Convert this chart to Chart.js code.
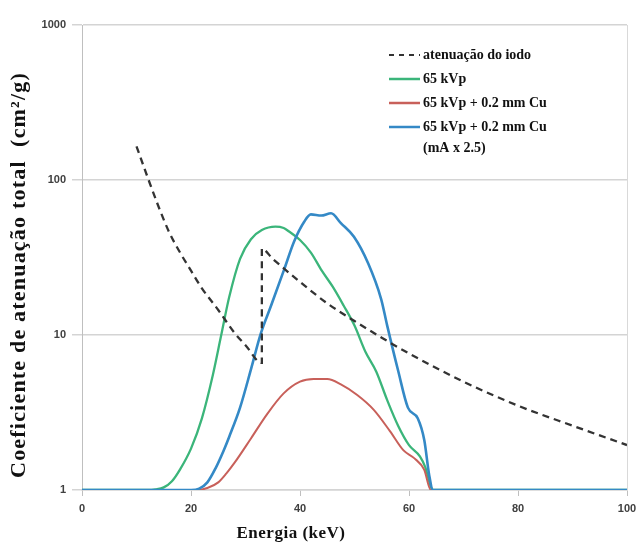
<!DOCTYPE html>
<html><head><meta charset="utf-8">
<script src="https://cdn.jsdelivr.net/npm/chart.js@4.4.0/dist/chart.umd.min.js"></script>
<style>html,body{margin:0;padding:0;background:#fff;}</style>
</head><body>
<canvas id="c" width="638" height="547"></canvas>
<script>
// ---- data ----
const xTickValues = [0, 20, 40, 60, 80, 100];
const yTickValues = [1, 10, 100, 1000];
const xTitle = 'Energia (keV)';
const yTitle = 'Coeficiente de atenuação total  (cm²/g)';
const legendLabels = ['atenuação do iodo', '65 kVp', '65 kVp + 0.2 mm Cu', ['65 kVp + 0.2 mm Cu', '(mA x 2.5)']];

const iodoE = [10, 12, 14, 16, 18, 20, 22, 25, 28, 30, 33, 33, 35, 40, 45, 50, 55, 60, 70, 80, 90, 100];
const iodoV = [165, 105, 68, 46, 34, 26, 20, 14.5, 10.3, 8.6, 6.6, 36, 31, 22, 16, 12.3, 9.6, 7.6, 5.0, 3.5, 2.6, 1.95];

const kvpE = [0, 12, 13.5, 15, 16.5, 18, 20, 22, 24, 25.5, 27, 29, 31, 33, 35.5, 37, 38, 40, 42, 44, 46, 48, 50, 52, 54, 56, 58, 60, 62, 63, 64, 64.5, 100];
const kvpV = [1, 1, 1.01, 1.04, 1.14, 1.36, 1.85, 2.9, 5.5, 9.8, 17.5, 31, 41.5, 47.5, 50, 49, 46.5, 41, 34, 26, 20.5, 15.5, 11.5, 7.8, 5.8, 3.8, 2.6, 1.95, 1.65, 1.4, 1.05, 1, 1];

const cuE = [0, 21, 23, 25, 26.5, 28, 31, 34, 37, 40, 42.5, 45, 47.5, 50.5, 53.5, 56.5, 59, 61, 62.8, 64, 100];
const cuV = [1, 1, 1.03, 1.12, 1.28, 1.5, 2.15, 3.1, 4.2, 5.0, 5.2, 5.2, 4.8, 4.1, 3.3, 2.4, 1.8, 1.6, 1.35, 1.0, 1];

const cuMaE = [0, 20, 21.5, 23, 24.5, 26, 27, 29, 31, 32.8, 34.7, 37.1, 38.9, 40.8, 42, 43.9, 45.7, 47.5, 49.9, 52.5, 54.9, 56, 58, 59.8, 61.6, 62.8, 63.7, 64.4, 100];
const cuMaV = [1, 1, 1.02, 1.12, 1.38, 1.8, 2.2, 3.4, 6.0, 10.2, 15.5, 26.5, 40, 54, 60, 59, 61, 52.7, 43, 29, 17, 11.5, 5.9, 3.4, 2.9, 2.1, 1.25, 1, 1];

const toXY = (e, v) => e.map((x, i) => ({ x: x, y: v[i] }));

const colors = { iodo: '#333333', kvp: '#3bb57a', cu: '#c8605a', cuMa: '#3489c6' };

const deco = {
  id: 'deco',
  afterDraw(chart) {
    const ctx = chart.ctx, a = chart.chartArea;
    ctx.save();
    // right border
    ctx.strokeStyle = '#d9d9d9'; ctx.lineWidth = 1;
    ctx.beginPath(); ctx.moveTo(a.right + 0.5, a.top); ctx.lineTo(a.right + 0.5, a.bottom); ctx.stroke();
    // axis titles
    ctx.fillStyle = '#111';
    ctx.textAlign = 'center'; ctx.textBaseline = 'middle';
    ctx.save();
    ctx.font = 'bold 17px "Liberation Serif"';
    ctx.letterSpacing = '0.5px';
    ctx.fillText(xTitle, 291, 534);
    ctx.restore();
    ctx.save();
    ctx.translate(25, 275); ctx.rotate(-Math.PI / 2);
    ctx.font = 'bold 22px "Liberation Serif"';
    ctx.letterSpacing = '1.2px';
    ctx.textBaseline = 'alphabetic';
    ctx.fillText(yTitle, 0, 0);
    ctx.restore();
    // legend
    const ys = [55, 79, 103, 127];
    const cols = [colors.iodo, colors.kvp, colors.cu, colors.cuMa];
    ctx.font = 'bold 14px "Liberation Serif"';
    ctx.textAlign = 'left'; ctx.textBaseline = 'middle';
    for (let i = 0; i < 4; i++) {
      ctx.strokeStyle = cols[i];
      ctx.lineWidth = i === 0 ? 2 : 2.5;
      ctx.setLineDash(i === 0 ? [5, 5] : []);
      ctx.beginPath(); ctx.moveTo(389, ys[i]); ctx.lineTo(420, ys[i]); ctx.stroke();
      ctx.setLineDash([]);
      ctx.fillStyle = '#111';
      const lab = legendLabels[i];
      if (Array.isArray(lab)) {
        lab.forEach((t, k) => ctx.fillText(t, 423, ys[i] + k * 21));
      } else ctx.fillText(lab, 423, ys[i]);
    }
    ctx.restore();
  }
};

new Chart(document.getElementById('c'), {
  type: 'line',
  data: {
    datasets: [
      { label: legendLabels[0], data: toXY(iodoE, iodoV), borderColor: colors.iodo, borderWidth: 2.3, borderDash: [7, 5], pointRadius: 0, cubicInterpolationMode: 'monotone', order: 0 },
      { label: legendLabels[1], data: toXY(kvpE, kvpV), borderColor: colors.kvp, borderWidth: 2.3, pointRadius: 0, cubicInterpolationMode: 'monotone', order: 3 },
      { label: legendLabels[2], data: toXY(cuE, cuV), borderColor: colors.cu, borderWidth: 2, pointRadius: 0, cubicInterpolationMode: 'monotone', order: 2 },
      { label: legendLabels[3].join(' '), data: toXY(cuMaE, cuMaV), borderColor: colors.cuMa, borderWidth: 2.6, pointRadius: 0, cubicInterpolationMode: 'monotone', order: 1 }
    ]
  },
  options: {
    responsive: false,
    animation: false,
    layout: { padding: { left: 0, right: 11, top: 25, bottom: 0 } },
    plugins: { legend: { display: false }, tooltip: { enabled: false } },
    scales: {
      x: {
        type: 'linear', min: 0, max: 100,
        afterBuildTicks: s => { s.ticks = xTickValues.map(v => ({ value: v })); },
        afterFit: s => { s.height = 57; s.paddingLeft = 0; s.paddingRight = 0; },
        grid: { drawOnChartArea: false, drawTicks: true, tickLength: 6, color: '#bfbfbf' },
        border: { display: true, color: '#d4d4d4', width: 1.5 },
        ticks: { color: '#404040', font: { family: 'Liberation Sans', size: 11, weight: 'bold' }, padding: 6, maxRotation: 0 }
      },
      y: {
        type: 'logarithmic', min: 1, max: 1000,
        afterBuildTicks: s => { s.ticks = yTickValues.map(v => ({ value: v })); },
        afterFit: s => { s.width = 82; s.paddingTop = 0; s.paddingBottom = 0; },
        grid: { color: '#d4d4d4', lineWidth: 1.5, drawTicks: true, tickLength: 10 },
        border: { display: true, color: '#bfbfbf', width: 1 },
        ticks: { color: '#404040', font: { family: 'Liberation Sans', size: 11, weight: 'bold' }, padding: 6, callback: v => String(v) }
      }
    }
  },
  plugins: [deco]
});
</script>
</body></html>
